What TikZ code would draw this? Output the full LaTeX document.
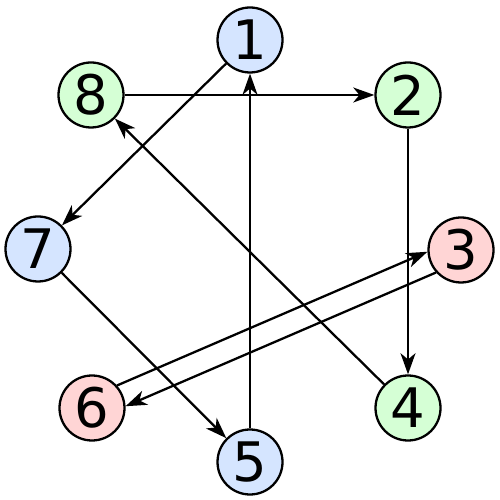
\documentclass[tikz,border=0pt]{standalone}
\usepackage{fontspec}
\setmainfont{DejaVu Sans}
\usepackage{tikz}
\usetikzlibrary{arrows.meta,positioning,calc}
\definecolor{nodeblue}{RGB}{213, 229, 255}
\definecolor{nodegreen}{RGB}{213, 255, 213}
\definecolor{nodered}{RGB}{255, 213, 213}

\begin{document}
\begin{tikzpicture}[>={Stealth[length=12pt,width=8.5pt,inset=3.5pt]},
    num/.style={circle, draw, line width=1.3pt, minimum size=1.3cm, inner sep=0pt,
                font=\fontsize{31}{31}\selectfont},
    bluenum/.style={num, fill=nodeblue},
    greennum/.style={num, fill=nodegreen},
    rednum/.style={num, fill=nodered},
    link/.style={->, line width=1.3pt}]
    \useasboundingbox (0,0) rectangle (10,10);

    % Numbered nodes round the ring
    \node[bluenum]  (n1) at (5.00, 9.20) {1};
    \node[greennum] (n2) at (8.16, 8.10) {2};
    \node[rednum]   (n3) at (9.22, 5.00) {3};
    \node[greennum] (n4) at (8.16, 1.84) {4};
    \node[bluenum]  (n5) at (5.00, 0.76) {5};
    \node[rednum]   (n6) at (1.84, 1.84) {6};
    \node[bluenum]  (n7) at (0.76, 5.02) {7};
    \node[greennum] (n8) at (1.82, 8.10) {8};

    % Links
    \draw[link] (n1) -- (n7);
    \draw[link] (n8) -- (n2);
    \draw[link] (n2) -- (n4);
    \draw[link] (n5) -- (n1);
    \draw[link] (n4) -- (n8);
    \draw[link] (n7) -- (n5);

    % Pair between 6 and 3
    \draw[link] (n6.42.7) -- (n3.183.7);
    \draw[link] (n3.222.7) -- (n6.3.7);
\end{tikzpicture}
\end{document}
